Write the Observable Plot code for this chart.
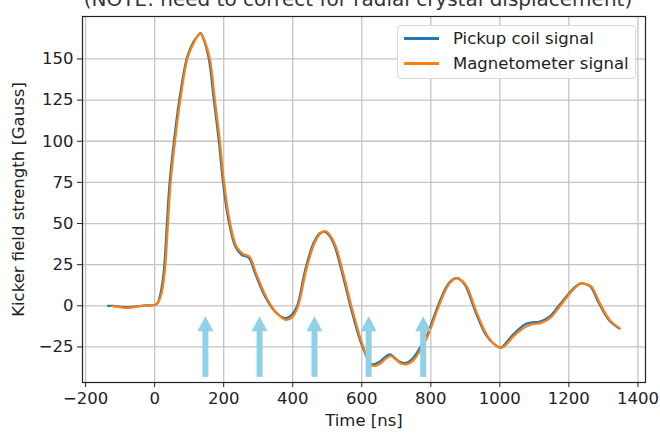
<!DOCTYPE html>
<html>
<head>
<meta charset="utf-8">
<script src="https://cdn.jsdelivr.net/npm/d3@7"></script>
<script src="https://cdn.jsdelivr.net/npm/@observablehq/plot@0.6"></script>
<style>
  html, body { margin: 0; padding: 0; background: #fff; }
  #fig { position: relative; width: 660px; height: 434px; overflow: hidden; font-family: "DejaVu Sans", sans-serif; color: #222; }
  #fig svg { overflow: visible; }
  #title { position: absolute; top: -11px; left: 60px; width: 596px; text-align: center; font-size: 20px; line-height: 20px; white-space: nowrap; color: #333; }
  #legend { position: absolute; left: 397px; top: 25px; width: 237px; height: 52px; border: 1px solid #d8d8d8; border-radius: 4px; background: rgba(255,255,255,0.85); font-size: 16.5px; }
  .item { position: absolute; left: 6px; display: flex; align-items: center; }
  .swatch { width: 35px; height: 3px; margin-right: 14px; }
</style>
</head>
<body>
<div id="fig">
  <div id="title">(NOTE: need to correct for radial crystal displacement)</div>
</div>
<script>
// ---- data ----
const pickupTime  = [-135,-120,-100,-80,-60,-40,-20,0,8,17,27,35,43,56,72,94,113,125,133,140,157,171,186,198,214,234,253,272,291,320,349,378,395,412,436,460,478,493,508,522,546,570,595,612,623,635,652,668,681,695,710,729,745,758,772,787,816,845,860,875,890,902,931,960,985,1003,1020,1037,1056,1075,1095,1114,1143,1172,1200,1218,1234,1250,1263,1287,1316,1345];
const pickupField = [0,0,-0.5,-0.8,-0.5,0,0.3,0.5,1.5,7.5,22,48,74,100,126,151,160.6,164,165.7,163,150,126,100,75,52,35.9,30.8,29.4,19.7,5.5,-3.6,-7.5,-6,-0.6,21.7,38,44,45,42,35.9,17.6,-2.6,-20.9,-30,-35,-35.5,-34,-31,-29.5,-31.5,-34,-34.7,-32.5,-29,-24.5,-18.9,-2.6,11.6,15.5,16.8,15,11.6,-4.6,-17.8,-23.5,-25.3,-22,-17.8,-14,-11.1,-10,-9.7,-6.7,0.4,7.5,11.5,13.6,13,11.6,1.5,-8.7,-13.7];

const magTime  = [-122,-100,-80,-60,-40,-20,0,10,20,30,38,46,59,75,96,115,127,134,141,160,174,189,201,217,237,256,275,294,323,352,380,398,415,439,463,481,496,511,525,549,573,598,615,626,640,655,671,684,698,713,732,748,761,775,790,819,848,863,877,892,905,934,963,988,1006,1023,1040,1059,1078,1098,1117,1146,1175,1203,1221,1237,1253,1266,1290,1319,1348];
const magField = [0,-0.8,-1.3,-0.8,-0.2,0.2,0.5,2,7.5,22,48,74,100,126,151,160.5,164.5,165.5,163,150,126,100,75,52,36,31.5,29.8,19.7,5.5,-4,-8.5,-7,-0.6,21.7,38,44,45.3,42,36,17.6,-2.6,-21,-31,-36,-36.5,-35,-32,-30.5,-32.5,-35,-35.5,-33.5,-30,-25,-19,-2.6,11.6,15.5,17,15,11.6,-4.6,-17.8,-24,-25.5,-22.5,-18.5,-15,-12.5,-11,-10.5,-7.5,0,7.5,11.5,13.6,13,11.6,1.5,-8.7,-13.7];

const arrowTime = [147, 304, 463, 620, 778];
const arrowTip = -6.4;     // value of arrow tips
const arrowBase = -43.5;   // value of arrow tails
const arrowNeck = -15.6;   // value where the head starts

const xTicks = [-200, 0, 200, 400, 600, 800, 1000, 1200, 1400];
const yTicks = [-25, 0, 25, 50, 75, 100, 125, 150];

const seriesNames = ["Pickup coil signal", "Magnetometer signal"];
const seriesColors = ["#1f77b4", "#ff7f0e"];

// ---- build tables ----
const pickup = pickupTime.map((t, i) => ({t, v: pickupField[i]}));
const mag = magTime.map((t, i) => ({t, v: magField[i]}));
const arrows = arrowTime.map(t => ({t}));

const headSymbol = {
  draw(ctx) {
    ctx.moveTo(0, 0);
    ctx.lineTo(-8, 15);
    ctx.lineTo(8, 15);
    ctx.closePath();
  }
};

const minus = d => String(d).replace("-", "\u2212");

const chart = Plot.plot({
  width: 660,
  height: 434,
  marginLeft: 82,
  marginRight: 15,
  marginTop: 16,
  marginBottom: 52,
  style: { fontFamily: "DejaVu Sans, sans-serif", fontSize: "16.5px", color: "#222", background: "transparent" },
  x: { domain: [-209, 1422] },
  y: { domain: [-46.6, 175.8] },
  marks: [
    Plot.gridX(xTicks, { stroke: "#c4c4c4", strokeOpacity: 1, strokeWidth: 1.3 }),
    Plot.gridY(yTicks, { stroke: "#c4c4c4", strokeOpacity: 1, strokeWidth: 1.3 }),
    Plot.line(pickup, { x: "t", y: "v", stroke: seriesColors[0], strokeWidth: 2.2, curve: "catmull-rom" }),
    Plot.line(mag, { x: "t", y: "v", stroke: seriesColors[1], strokeWidth: 2.2, curve: "catmull-rom" }),
    Plot.ruleX(arrows, { x: "t", y1: arrowBase, y2: arrowNeck, stroke: "#8fd1e8", strokeWidth: 6 }),
    Plot.dot(arrows, { x: "t", y: () => arrowTip, symbol: headSymbol, fill: "#8fd1e8", stroke: "none" }),
    Plot.frame({ stroke: "#222", strokeWidth: 1.2 }),
    Plot.axisX(xTicks, { tickSize: 5, tickPadding: 5, tickFormat: minus, label: null }),
    Plot.axisY(yTicks, { tickSize: 5, tickPadding: 4, tickFormat: minus, label: null }),
    Plot.text(["Time [ns]"], { frameAnchor: "bottom", dy: 43, fontSize: 16.5 }),
    Plot.text(["Kicker field strength [Gauss]"], { frameAnchor: "left", dx: -64, rotate: -90, textAnchor: "middle", fontSize: 16.5 })
  ]
});

const fig = document.getElementById("fig");
fig.insertBefore(chart, fig.firstChild);
chart.style.position = "absolute";
chart.style.left = "0";
chart.style.top = "0";

// legend overlay
const legend = document.createElement("div");
legend.id = "legend";
seriesNames.forEach((name, i) => {
  const item = document.createElement("div");
  item.className = "item";
  item.style.top = (i === 0 ? 3 : 28) + "px";
  const sw = document.createElement("span");
  sw.className = "swatch";
  sw.style.background = seriesColors[i];
  const lab = document.createElement("span");
  lab.textContent = name;
  item.appendChild(sw);
  item.appendChild(lab);
  legend.appendChild(item);
});
fig.appendChild(legend);
</script>
</body>
</html>
